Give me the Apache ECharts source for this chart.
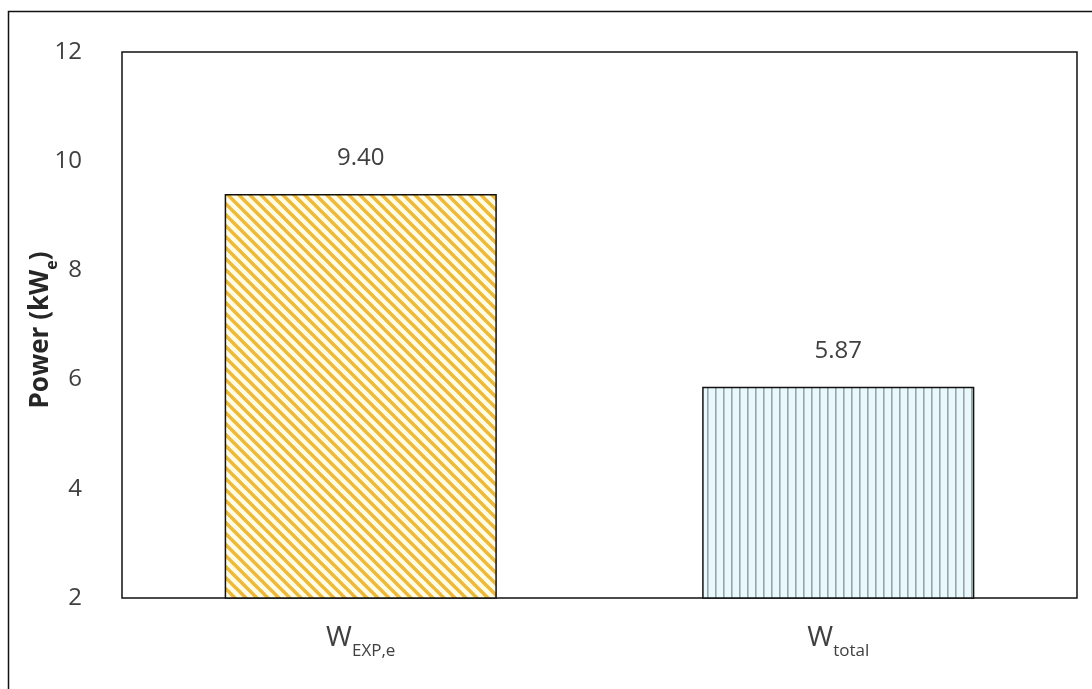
<!DOCTYPE html>
<html>
<head>
<meta charset="utf-8">
<script src="https://cdn.jsdelivr.net/npm/echarts@6/dist/echarts.min.js"></script>
<style>
html,body{margin:0;padding:0;background:#fff;}
#chart{width:1092px;height:689px;}
</style>
</head>
<body>
<div id="chart"></div>
<script>
const catMain = ['W', 'W'];
const catSub = ['EXP,e', 'total'];
const powerValues = [9.40, 5.87];
const yTicks = [2, 4, 6, 8, 10, 12];
const yTitleMain = ['Power (kW', ')'];
const yTitleSub = 'e';

function diagPattern() {
  const n = 11;
  const c = document.createElement('canvas');
  c.width = n; c.height = n;
  const g = c.getContext('2d');
  g.fillStyle = '#FFFCE8';
  g.fillRect(0, 0, n, n);
  g.strokeStyle = '#EFB935';
  g.lineWidth = 3.4;
  for (let k = -1; k <= 1; k++) {
    g.beginPath();
    g.moveTo(-n + k * n, -n);
    g.lineTo(2 * n + k * n, 2 * n);
    g.stroke();
  }
  return c;
}
function vertPattern() {
  const w = 8;
  const c = document.createElement('canvas');
  c.width = w; c.height = 4;
  const g = c.getContext('2d');
  g.fillStyle = '#EAF8FB';
  g.fillRect(0, 0, w, 4);
  g.fillStyle = '#8FA9AF';
  g.fillRect(3, 0, 1.6, 4);
  return c;
}
const fills = [
  { image: diagPattern(), repeat: 'repeat' },
  { image: vertPattern(), repeat: 'repeat' }
];

const chart = echarts.init(document.getElementById('chart'), null, { renderer: 'canvas' });
const FONT = '"Open Sans", "DejaVu Sans", sans-serif';
chart.setOption({
  animation: false,
  backgroundColor: '#fff',
  graphic: [{
    type: 'rect',
    shape: { x: 8.5, y: 11.5, width: 1200, height: 900 },
    style: { fill: 'none', stroke: '#111', lineWidth: 1.5 },
    silent: true
  }, {
    type: 'text',
    x: 44, y: 330,
    rotation: Math.PI / 2,
    silent: true,
    style: {
      text: '{b|' + yTitleMain[0] + '}{s|' + yTitleSub + '}{b|' + yTitleMain[1] + '}',
      align: 'center',
      verticalAlign: 'middle',
      rich: {
        b: { fontFamily: FONT, fontSize: 26, fontWeight: 'bold', fill: '#262626', verticalAlign: 'bottom', padding: [0, 0, 6, 0] },
        s: { fontFamily: FONT, fontSize: 16, fontWeight: 'bold', fill: '#262626', verticalAlign: 'bottom' }
      }
    }
  }],
  grid: {
    left: 122, top: 52, right: 15, bottom: 91,
    show: true, borderColor: '#111', borderWidth: 1.5, backgroundColor: 'transparent'
  },
  xAxis: {
    type: 'category',
    data: catMain.map((m, i) => m + '|' + catSub[i]),
    axisLine: { show: false },
    axisTick: { show: false },
    axisLabel: {
      margin: 26,
      formatter: function (v) {
        const p = v.split('|');
        return '{m|' + p[0] + '}{s|' + p[1] + '}';
      },
      rich: {
        m: { fontFamily: FONT, fontSize: 28, color: '#404040', verticalAlign: 'bottom', padding: [0, 0, 8, 0] },
        s: { fontFamily: FONT, fontSize: 17, color: '#404040', verticalAlign: 'bottom' }
      }
    }
  },
  yAxis: {
    type: 'value',
    min: yTicks[0], max: yTicks[yTicks.length - 1], interval: 2,
    splitLine: { show: false },
    axisLine: { show: false },
    axisTick: { show: false },
    axisLabel: { margin: 40, fontFamily: FONT, fontSize: 24, color: '#404040' }
  },
  series: [{
    type: 'bar',
    barWidth: '57%',
    data: powerValues.map((v, i) => ({ value: v, itemStyle: { color: fills[i] } })),
    itemStyle: { borderColor: '#111', borderWidth: 1.5 },
    label: {
      show: true, position: 'top', distance: 24,
      fontFamily: FONT, fontSize: 24, color: '#404040',
      formatter: p => p.value.toFixed(2)
    }
  }]
});
</script>
</body>
</html>
